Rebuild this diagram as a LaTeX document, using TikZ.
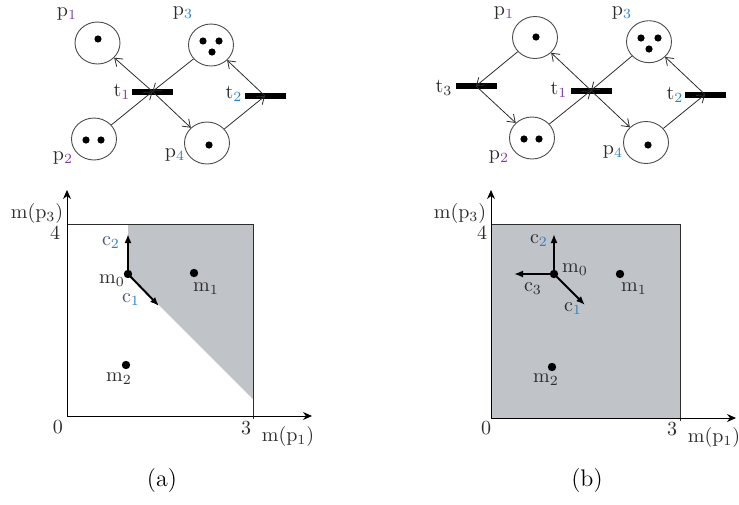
\documentclass[tikz,border=0pt]{standalone}
\usetikzlibrary{arrows.meta,shapes.geometric}
\definecolor{pur}{RGB}{130,60,160}
\definecolor{blu}{RGB}{40,130,200}
\definecolor{cblu}{RGB}{70,85,130}
\definecolor{areagray}{RGB}{192,195,200}
\definecolor{ink}{RGB}{45,45,45}
\tikzset{
 place/.style={ellipse,draw=ink!85,line width=0.45pt,minimum width=22.5pt,minimum height=21pt,inner sep=0pt},
 trans/.style={fill=black,minimum width=20.5pt,minimum height=3pt,inner sep=0pt},
 arc/.style={draw=ink,line width=0.4pt,-{Straight Barb[length=3.5pt,width=5pt]}},
 lbl/.style={font=\fontsize{10}{12}\selectfont,text=ink,inner sep=0pt},
 captext/.style={font=\fontsize{12}{14}\selectfont,text=black,inner sep=0pt},
 axis/.style={draw=black,line width=0.5pt,-{Stealth[length=4.5pt,width=4pt]}},
 vec/.style={draw=black,line width=1pt,-{Latex[length=4.5pt,width=3.5pt]}},
 mpt/.style={circle,fill=black,inner sep=0pt,minimum size=4.2pt},
 boxline/.style={draw=ink,line width=0.5pt},
}
\begin{document}
\begin{tikzpicture}[x=0.5pt,y=-0.5pt]
\useasboundingbox (0,0) rectangle (739,504);

% ---------- left Petri net ----------
\node[place] (Lp1) at (97.5,43) {};
\node[place] (Lp3) at (211,45) {};
\node[place] (Lp2) at (94,139) {};
\node[place] (Lp4) at (207,143) {};
\fill (98,39) circle (1.8pt);
\fill (203,41) circle (1.8pt); \fill (219,41) circle (1.8pt); \fill (212,52) circle (1.8pt);
\fill (86,140) circle (1.8pt); \fill (101,140) circle (1.8pt);
\fill (209,145) circle (1.8pt);
\node[trans] (Lt1) at (152.5,91.5) {};
\node[trans] (Lt2) at (265,96) {};
\draw[arc] (Lt1.center) -- (Lp1);
\draw[arc] (Lp3) -- (Lt1.center);
\draw[arc] (Lp2) -- (Lt1.center);
\draw[arc] (Lt1.center) -- (Lp4);
\draw[arc] (Lp4) -- (Lt2.center);
\draw[arc] (Lt2.center) -- (Lp3);
\node[lbl] (Llp1) at (67,14) {$\mathrm{p}_{\textcolor{pur}{1}}$};
\node[lbl] (Llp3) at (183,13) {$\mathrm{p}_{\textcolor{blu}{3}}$};
\node[lbl] (Llt1) at (122,92) {$\mathrm{t}_{\textcolor{pur}{1}}$};
\node[lbl] (Llt2) at (234,94) {$\mathrm{t}_{\textcolor{blu}{2}}$};
\node[lbl] (Llp2) at (63,158) {$\mathrm{p}_{\textcolor{pur}{2}}$};
\node[lbl] (Llp4) at (175,155) {$\mathrm{p}_{\textcolor{blu}{4}}$};

% ---------- right Petri net ----------
\node[place] (Rp1) at (535,37.5) {};
\node[place] (Rp3) at (649,41.7) {};
\node[place] (Rp2) at (532,138) {};
\node[place] (Rp4) at (646,142.5) {};
\fill (536,37) circle (1.8pt);
\fill (641,38) circle (1.8pt); \fill (658,38) circle (1.8pt); \fill (649,49) circle (1.8pt);
\fill (524,139) circle (1.8pt); \fill (539,139) circle (1.8pt);
\fill (648,145) circle (1.8pt);
\node[trans] (Rt3) at (476,86) {};
\node[trans] (Rt1) at (591,90.5) {};
\node[trans] (Rt2) at (705,94.5) {};
\draw[arc] (Rp1) -- (Rt3.center);
\draw[arc] (Rt3.center) -- (Rp2);
\draw[arc] (Rp2) -- (Rt1.center);
\draw[arc] (Rt1.center) -- (Rp1);
\draw[arc] (Rp3) -- (Rt1.center);
\draw[arc] (Rt1.center) -- (Rp4);
\draw[arc] (Rp4) -- (Rt2.center);
\draw[arc] (Rt2.center) -- (Rp3);
\node[lbl] (Rlp1) at (504,13) {$\mathrm{p}_{\textcolor{pur}{1}}$};
\node[lbl] (Rlp3) at (622,13) {$\mathrm{p}_{\textcolor{blu}{3}}$};
\node[lbl] (Rlt3) at (444,88) {$\mathrm{t}_{3}$};
\node[lbl] (Rlt1) at (559,90) {$\mathrm{t}_{\textcolor{pur}{1}}$};
\node[lbl] (Rlt2) at (675,95) {$\mathrm{t}_{\textcolor{blu}{2}}$};
\node[lbl] (Rlp2) at (499,157) {$\mathrm{p}_{\textcolor{pur}{2}}$};
\node[lbl] (Rlp4) at (613,152) {$\mathrm{p}_{\textcolor{blu}{4}}$};

% ---------- left plot ----------
\fill[areagray] (128,224) -- (253,224) -- (253,399) -- (128,274) -- cycle;
\draw[boxline] (67,224) -- (253,224) -- (253,419);
\coordinate (LO) at (67,416);
\coordinate (LY) at (67,190);
\coordinate (LX) at (312,416);
\draw[axis] (LO) -- (LY);
\draw[axis] (LO) -- (LX);
\node[mpt] (Lm0) at (128,274) {};
\node[mpt] (Lm1) at (194,273) {};
\node[mpt] (Lm2) at (126,365) {};
\coordinate (Lc2) at (128,234);
\coordinate (Lc1) at (159,306);
\draw[vec] (Lm0.center) -- (Lc2);
\draw[vec] (Lm0.center) -- (Lc1);
\node[lbl] (Llc2) at (111,243) {$\textcolor{cblu}{\mathrm{c}}_{\textcolor{blu}{2}}$};
\node[lbl] (Llm0) at (112,281) {$\mathrm{m}_{0}$};
\node[lbl] (Llc1) at (131,300) {$\textcolor{cblu}{\mathrm{c}}_{\textcolor{blu}{1}}$};
\node[lbl] (Llm1) at (206,289) {$\mathrm{m}_{1}$};
\node[lbl] (Llm2) at (119,379) {$\mathrm{m}_{2}$};
\node[lbl] (Ll4) at (55,233) {4};
\node[lbl] (Ll0) at (58,427) {0};
\node[lbl] (Ll3) at (246,428) {3};
\node[lbl] (LlX) at (288,436) {$\mathrm{m}(\mathrm{p}_{1})$};
\node[lbl] (LlY) at (37,213) {$\mathrm{m}(\mathrm{p}_{3})$};

% ---------- right plot ----------
\fill[areagray] (491,224) rectangle (680,418);
\draw[boxline] (491,224) -- (680,224) -- (680,421);
\coordinate (RO) at (491,418);
\coordinate (RY) at (491,190);
\coordinate (RX) at (736,418);
\draw[axis] (RO) -- (RY);
\draw[axis] (RO) -- (RX);
\node[mpt] (Rm0) at (554,274) {};
\node[mpt] (Rm1) at (620,274) {};
\node[mpt] (Rm2) at (552,367) {};
\coordinate (Rc2) at (554,234);
\coordinate (Rc3) at (514,274);
\coordinate (Rc1) at (585,305);
\draw[vec] (Rm0.center) -- (Rc2);
\draw[vec] (Rm0.center) -- (Rc3);
\draw[vec] (Rm0.center) -- (Rc1);
\node[lbl] (Rlc2) at (539,241) {$\mathrm{c}_{\textcolor{blu}{2}}$};
\node[lbl] (Rlm0) at (575,270) {$\mathrm{m}_{0}$};
\node[lbl] (Rlc3) at (533,289) {$\mathrm{c}_{3}$};
\node[lbl] (Rlc1) at (573,309) {$\mathrm{c}_{\textcolor{blu}{1}}$};
\node[lbl] (Rlm1) at (634,289) {$\mathrm{m}_{1}$};
\node[lbl] (Rlm2) at (546,380) {$\mathrm{m}_{2}$};
\node[lbl] (Rl4) at (482,233) {4};
\node[lbl] (Rl0) at (486,428) {0};
\node[lbl] (Rl3) at (672,429) {3};
\node[lbl] (RlX) at (714,437) {$\mathrm{m}(\mathrm{p}_{1})$};
\node[lbl] (RlY) at (460,213) {$\mathrm{m}(\mathrm{p}_{3})$};

% ---------- captions ----------
\node[captext] (capa) at (162,481) {(a)};
\node[captext] (capb) at (587,481) {(b)};
\end{tikzpicture}
\end{document}
